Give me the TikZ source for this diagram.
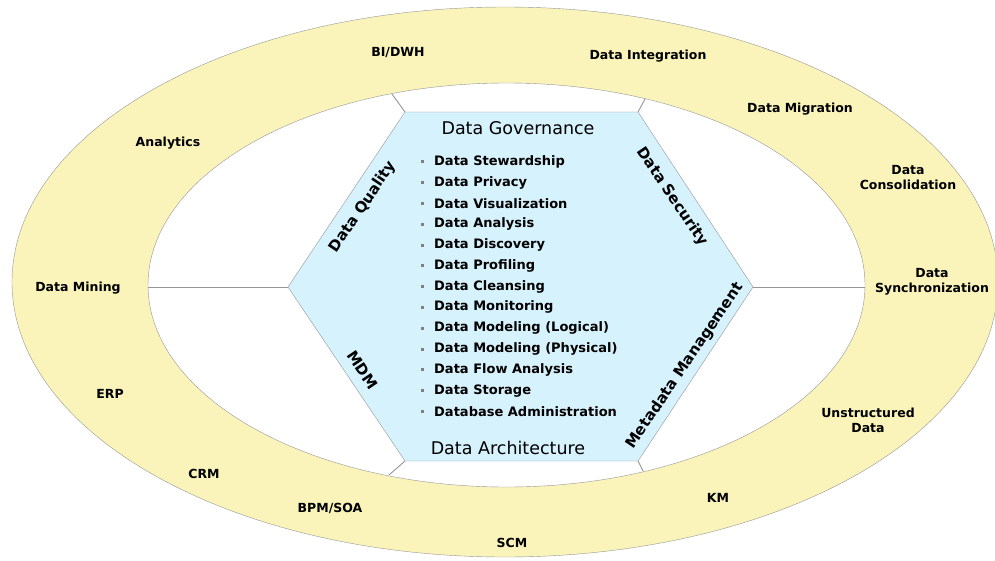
\documentclass[tikz,border=0pt]{standalone}
\usepackage{fontspec}
\setmainfont{DejaVu Sans}
\usetikzlibrary{positioning,calc}

\definecolor{ringyellow}{RGB}{250,244,186}
\definecolor{hexblue}{RGB}{214,242,253}
\definecolor{edgegray}{RGB}{150,150,150}

\begin{document}
\begin{tikzpicture}[x=1pt, y=-1pt,
    ring label/.style={font=\bfseries\fontsize{12.5}{15}\selectfont, align=center, inner sep=1pt},
    side label/.style={font=\bfseries\fontsize{15}{17}\selectfont, inner sep=1pt},
    title label/.style={font=\fontsize{17.5}{20}\selectfont, inner sep=1pt},
    item label/.style={font=\bfseries\fontsize{13}{15}\selectfont, anchor=west, inner sep=0pt},
    bullet dot/.style={fill=gray, minimum size=3pt, inner sep=0pt},
    spoke/.style={draw=edgegray, line width=0.9pt}]
    \useasboundingbox (0,0) rectangle (995,560);

    % outer ring and inner hole
    \filldraw[fill=ringyellow, draw=edgegray] (505,282) ellipse [x radius=493pt, y radius=275pt];
    \filldraw[fill=white, draw=edgegray] (506.5,285) ellipse [x radius=358.5pt, y radius=202pt];

    % hexagon corners and spoke ends on the inner edge
    \coordinate (hTL) at (405,112);
    \coordinate (hTR) at (638,112);
    \coordinate (hR)  at (753,287);
    \coordinate (hBR) at (638,461);
    \coordinate (hBL) at (405,461);
    \coordinate (hL)  at (288,287);
    \coordinate (eTL) at (392,94);
    \coordinate (eTR) at (645,99);
    \coordinate (eR)  at (865,287);
    \coordinate (eBR) at (643,471);
    \coordinate (eBL) at (389,475);
    \coordinate (eL)  at (148,287);

    \draw[spoke] (hTL) -- (eTL);
    \draw[spoke] (hTR) -- (eTR);
    \draw[spoke] (hR) -- (eR);
    \draw[spoke] (hBR) -- (eBR);
    \draw[spoke] (hBL) -- (eBL);
    \draw[spoke] (hL) -- (eL);

    \filldraw[fill=hexblue, draw=edgegray] (hTL) -- (hTR) -- (hR) -- (hBR) -- (hBL) -- (hL) -- cycle;

    % hexagon texts
    \node[title label] (gov)  at (518,128) {Data Governance};
    \node[title label] (arch) at (508,448) {Data Architecture};
    \node[side label, rotate=56]  (quality)  at (363,207) {Data Quality};
    \node[side label, rotate=-56] (security) at (672,197) {Data Security};
    \node[side label, rotate=-56] (mdm)      at (363,370) {MDM};
    \node[side label, rotate=56]  (metadata) at (685,366) {Metadata Management};

    \foreach \txt [count=\i] in {Data Stewardship, Data Privacy, Data Visualization,
        Data Analysis, Data Discovery, Data Profiling, Data Cleansing, Data Monitoring,
        Data Modeling (Logical), Data Modeling (Physical), Data Flow Analysis,
        Data Storage, Database Administration} {
        \node[bullet dot] (dot\i) at (422,141+20.8*\i) {};
        \node[item label] (item\i) at (434,141+20.8*\i) {\txt};
    }

    % ring texts
    \node[ring label] (bidwh)   at (398,53)  {BI/DWH};
    \node[ring label] (integr)  at (648,56)  {Data Integration};
    \node[ring label] (migr)    at (800,109) {Data Migration};
    \node[ring label] (consol)  at (908,178) {Data\\Consolidation};
    \node[ring label] (sync)    at (932,282) {Data\\Synchronization};
    \node[ring label] (unstr)   at (868,420) {Unstructured\\Data};
    \node[ring label] (km)      at (718,498) {KM};
    \node[ring label] (scm)     at (512,543) {SCM};
    \node[ring label] (bpm)     at (330,508) {BPM/SOA};
    \node[ring label] (crm)     at (204,474) {CRM};
    \node[ring label] (erp)     at (110,394) {ERP};
    \node[ring label] (mining)  at (78,288)  {Data Mining};
    \node[ring label] (analyt)  at (168,143) {Analytics};
\end{tikzpicture}
\end{document}
